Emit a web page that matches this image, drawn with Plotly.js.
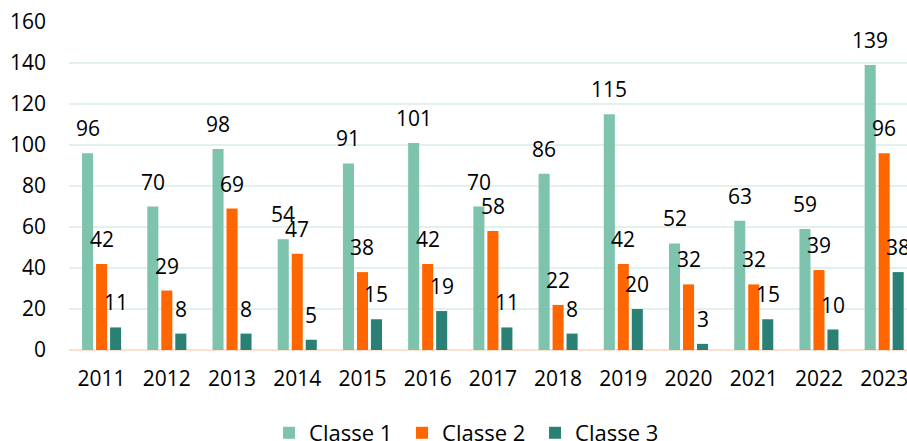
<!DOCTYPE html>
<html>
<head>
<meta charset="utf-8">
<script src="https://cdn.plot.ly/plotly-3.0.1.min.js"></script>
<style>html,body{margin:0;padding:0;background:#fff;}#chart{width:907px;height:441px;}</style>
</head>
<body>
<div id="chart"></div>
<script>
const years = ["2011","2012","2013","2014","2015","2016","2017","2018","2019","2020","2021","2022","2023"];
const classe1 = [96,70,98,54,91,101,70,86,115,52,63,59,139];
const classe2 = [42,29,69,47,38,42,58,22,42,32,32,39,96];
const classe3 = [11,8,8,5,15,19,11,8,20,3,15,10,38];
const seriesNames = ["Classe 1","Classe 2","Classe 3"];
const seriesColors = ["#7DC3AE","#FF6600","#2A8074"];
const seriesValues = [classe1, classe2, classe3];

const FONT = "Open Sans, Liberation Sans, Arial, sans-serif";
const traces = seriesValues.map((vals, i) => ({
  type: "bar",
  name: seriesNames[i],
  x: years,
  y: vals,
  marker: {color: seriesColors[i]},
  hoverinfo: "skip"
}));

const annotations = [];
const shifts = [-14, 0, 14];
seriesValues.forEach((vals, i) => {
  vals.forEach((v, j) => {
    annotations.push({
      x: j, y: v, xref: "x", yref: "y",
      text: String(v), showarrow: false,
      xshift: shifts[i], yshift: 25,
      xanchor: "center", yanchor: "middle",
      font: {family: FONT, size: 21, color: "#000"}
    });
  });
});

const layout = {
  width: 907, height: 441,
  margin: {l: 69, r: 0, t: 22, b: 91, autoexpand: false},
  paper_bgcolor: "#fff", plot_bgcolor: "#fff",
  barmode: "group",
  bargap: 0.356,
  bargroupgap: 0.21,
  showlegend: true,
  legend: {
    orientation: "h", x: 0.2387, xanchor: "left", y: -0.253, yanchor: "middle",
    font: {family: FONT, size: 22, color: "#000"},
    entrywidth: 88, entrywidthmode: "pixels",
    traceorder: "normal"
  },
  xaxis: {
    type: "category",
    range: [-0.5, 12.35],
    showgrid: false, zeroline: false, showline: false,
    ticks: "", ticklabelstandoff: 14,
    tickfont: {family: FONT, size: 21, color: "#000"}
  },
  yaxis: {
    range: [0, 160], dtick: 20,
    showgrid: true, gridcolor: "#E3F1EC", gridwidth: 1.5,
    zeroline: true, zerolinecolor: "#FCE0D2", zerolinewidth: 2,
    showline: false, ticks: "", ticklabelstandoff: 22,
    tickfont: {family: FONT, size: 21, color: "#000"}
  },
  annotations: annotations
};

Plotly.newPlot("chart", traces, layout, {displayModeBar: false});
</script>
</body>
</html>
